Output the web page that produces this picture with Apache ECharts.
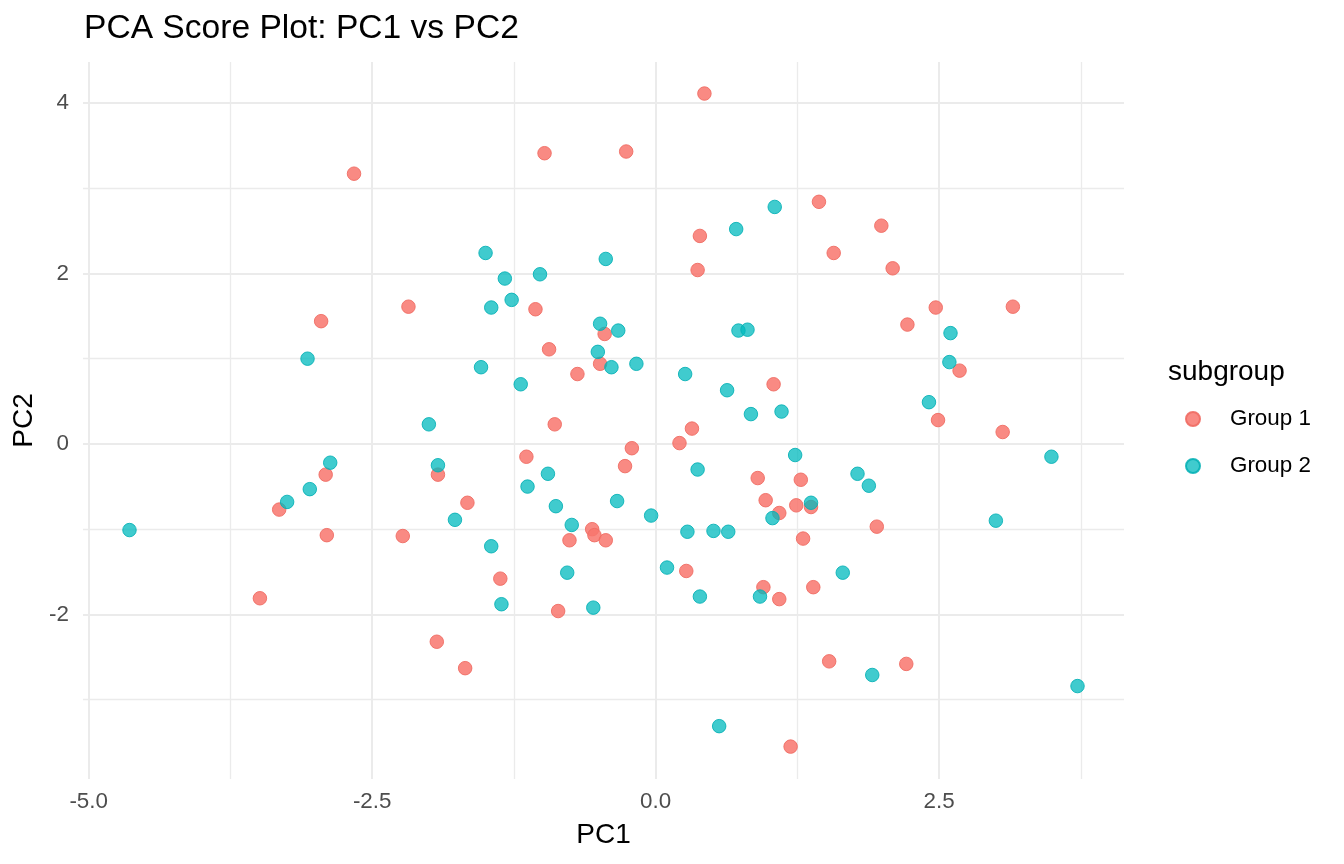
<!DOCTYPE html>
<html>
<head>
<meta charset="utf-8">
<script src="https://cdn.jsdelivr.net/npm/echarts@6/dist/echarts.min.js"></script>
<style>
html,body{margin:0;padding:0;background:#fff;}
#chart{width:1344px;height:864px;}
</style>
</head>
<body>
<div id="chart"></div>
<script>
const groupNames = ['Group 1', 'Group 2'];
const group1PC1 = [0.43,-0.98,-0.26,-2.66,1.44,1.99,0.39,1.57,2.09,0.37,-2.18,3.15,2.47,-1.06,-2.95,2.22,-0.45,-0.94,-0.49,-0.69,2.68,1.04,2.49,-0.89,3.06,0.32,0.21,-0.21,-1.14,-0.27,-2.91,-1.92,0.90,1.28,-1.66,0.97,1.24,1.37,-3.32,1.09,1.95,-0.56,-0.54,-2.90,-2.23,-0.76,-0.44,1.30,0.27,-1.37,1.39,0.95,1.09,-3.49,-0.86,-1.93,1.53,2.21,-1.68,1.19];
const group1PC2 = [4.11,3.41,3.43,3.17,2.84,2.56,2.44,2.24,2.06,2.04,1.61,1.61,1.60,1.58,1.44,1.40,1.29,1.11,0.94,0.82,0.86,0.70,0.28,0.23,0.14,0.18,0.01,-0.05,-0.15,-0.26,-0.36,-0.36,-0.40,-0.42,-0.69,-0.66,-0.72,-0.74,-0.77,-0.81,-0.97,-1.00,-1.07,-1.07,-1.08,-1.13,-1.13,-1.11,-1.49,-1.58,-1.68,-1.68,-1.82,-1.81,-1.96,-2.32,-2.55,-2.58,-2.63,-3.55];
const group2PC1 = [1.05,0.71,-1.50,-0.44,-1.33,-1.02,-1.27,-1.45,-0.49,-0.33,0.73,0.81,2.60,-0.51,-3.07,-1.54,-0.39,-0.17,2.59,0.26,-1.19,0.63,2.41,1.11,0.84,-2.00,-2.87,-1.92,1.23,3.49,-0.95,0.37,1.78,1.88,-3.05,-1.13,-3.25,-0.34,1.37,-0.88,-1.77,-0.04,1.03,3.00,-0.74,-4.64,0.28,0.51,0.64,-1.45,0.10,-0.78,1.65,0.39,0.92,-1.36,-0.55,1.91,3.72,0.56];
const group2PC2 = [2.78,2.52,2.24,2.17,1.94,1.99,1.69,1.60,1.41,1.33,1.33,1.34,1.30,1.08,1.00,0.90,0.90,0.94,0.96,0.82,0.70,0.63,0.49,0.38,0.35,0.23,-0.22,-0.25,-0.13,-0.15,-0.35,-0.30,-0.35,-0.49,-0.53,-0.50,-0.68,-0.67,-0.69,-0.73,-0.89,-0.84,-0.87,-0.90,-0.95,-1.01,-1.03,-1.02,-1.03,-1.20,-1.45,-1.51,-1.51,-1.79,-1.79,-1.88,-1.92,-2.71,-2.84,-3.31];
const xMajorTicks = [-5, -2.5, 0, 2.5];
const xMinorTicks = [-3.75, -1.25, 1.25, 3.75];
const yMajorTicks = [-2, 0, 2, 4];
const yMinorTicks = [-3, -1, 1, 3];
const xRange = [-5.05, 4.13];
const yRange = [-3.93, 4.48];

const FONT = 'Liberation Sans, Arial, Helvetica, sans-serif';
const fills = ['rgba(248,118,109,0.85)', 'rgba(0,186,190,0.75)'];
const borders = ['rgba(240,108,99,0.9)', 'rgba(0,175,180,0.85)'];

function pairs(xs, ys) { return xs.map((x, i) => [x, ys[i]]); }

const chart = echarts.init(document.getElementById('chart'), null, {renderer: 'canvas'});

function gridAxis(range, ticks, extra) {
  return Object.assign({
    type: 'value',
    min: range[0],
    max: range[1],
    axisLine: {show: false},
    axisTick: {show: false, customValues: ticks},
    splitLine: {show: true, lineStyle: {color: '#EBEBEB', width: 2}},
    axisLabel: {show: false}
  }, extra || {});
}

chart.setOption({
  animation: false,
  textStyle: {fontFamily: FONT},
  title: [
    {text: 'PCA Score Plot: PC1 vs PC2', left: 84, top: 12, padding: 0,
     textStyle: {fontFamily: FONT, fontSize: 33.6, fontWeight: 'normal', color: '#000'}},
    {text: 'subgroup', left: 1168, top: 358, padding: 0,
     textStyle: {fontFamily: FONT, fontSize: 28, fontWeight: 'normal', color: '#000'}}
  ],
  legend: {
    data: groupNames,
    orient: 'vertical',
    left: 1185,
    top: 408,
    padding: 0,
    icon: 'circle',
    itemWidth: 14,
    itemHeight: 14,
    itemGap: 25,
    textStyle: {fontFamily: FONT, fontSize: 22.4, color: '#000', lineHeight: 22, padding: [0, 0, 0, 25]}
  },
  grid: {left: 83, right: 220, top: 62, bottom: 85, containLabel: false, outerBoundsMode: 'none'},
  xAxis: [
    gridAxis(xRange, xMinorTicks, {
      position: 'top',
      splitLine: {show: true, lineStyle: {color: '#EBEBEB', width: 1.3}}
    }),
    gridAxis(xRange, xMajorTicks, {
      position: 'bottom',
      axisLabel: {show: true, customValues: xMajorTicks, formatter: v => Number(v).toFixed(1),
                  fontSize: 22.4, color: '#4D4D4D', margin: 12, fontFamily: FONT},
      name: 'PC1', nameLocation: 'middle', nameGap: 42,
      nameTextStyle: {fontSize: 28, color: '#000', fontFamily: FONT}
    })
  ],
  yAxis: [
    gridAxis(yRange, yMinorTicks, {
      position: 'right',
      splitLine: {show: true, lineStyle: {color: '#EBEBEB', width: 1.3}}
    }),
    gridAxis(yRange, yMajorTicks, {
      position: 'left',
      axisLabel: {show: true, customValues: yMajorTicks, formatter: v => String(Math.round(v)),
                  fontSize: 22.4, color: '#4D4D4D', margin: 14, fontFamily: FONT},
      name: 'PC2', nameLocation: 'middle', nameGap: 41, nameRotate: 90,
      nameTextStyle: {fontSize: 28, color: '#000', fontFamily: FONT}
    })
  ],
  series: [
    {name: groupNames[0], type: 'scatter', xAxisIndex: 1, yAxisIndex: 1,
     data: pairs(group1PC1, group1PC2), symbol: 'circle', symbolSize: 13.5,
     itemStyle: {color: fills[0], borderColor: borders[0], borderWidth: 1, opacity: 1}},
    {name: groupNames[1], type: 'scatter', xAxisIndex: 1, yAxisIndex: 1,
     data: pairs(group2PC1, group2PC2), symbol: 'circle', symbolSize: 13.5,
     itemStyle: {color: fills[1], borderColor: borders[1], borderWidth: 1, opacity: 1}}
  ]
});
</script>
</body>
</html>
